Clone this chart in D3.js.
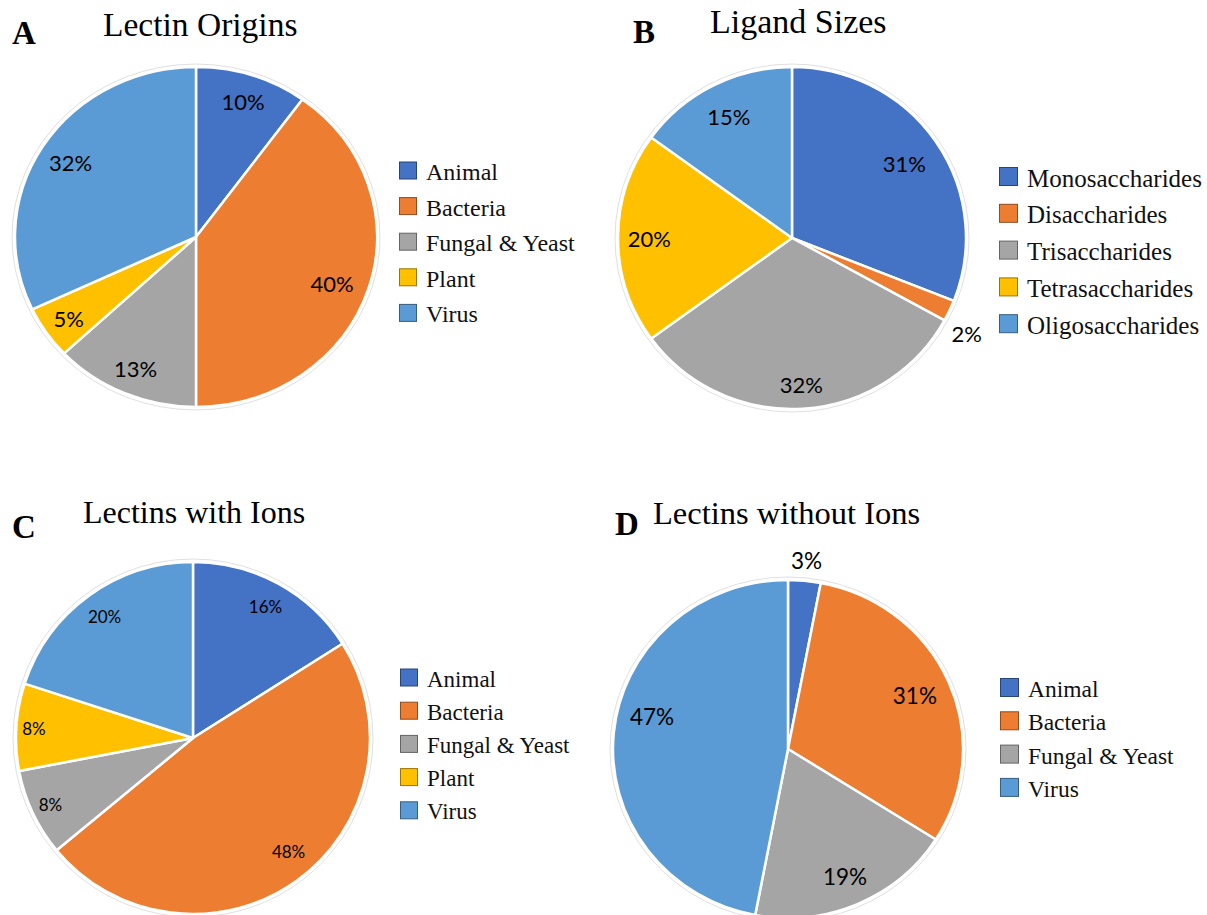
<!DOCTYPE html>
<html>
<head>
<meta charset="utf-8">
<script src="https://cdn.jsdelivr.net/npm/d3@7"></script>
<style>
  body { margin: 0; background: #fff; }
  svg { display: block; }
</style>
</head>
<body>
<div id="sketchpad"></div>
<script>
// data (percentages)
var panelLetters = ["A", "B", "C", "D"];
var panelTitles = ["Lectin Origins", "Ligand Sizes", "Lectins with Ions", "Lectins without Ions"];

var originCategories = ["Animal", "Bacteria", "Fungal & Yeast", "Plant", "Virus"];
var originValues = [10, 40, 13, 5, 32];

var ligandCategories = ["Monosaccharides", "Disaccharides", "Trisaccharides", "Tetrasaccharides", "Oligosaccharides"];
var ligandValues = [31, 2, 32, 20, 15];

var withIonsCategories = ["Animal", "Bacteria", "Fungal & Yeast", "Plant", "Virus"];
var withIonsValues = [16, 48, 8, 8, 20];

var withoutIonsCategories = ["Animal", "Bacteria", "Fungal & Yeast", "Virus"];
var withoutIonsValues = [3, 31, 19, 47];

var palette = ["#4472C4", "#ED7D31", "#A5A5A5", "#FFC000", "#5B9BD5"];
var withoutIonsColors = ["#4472C4", "#ED7D31", "#A5A5A5", "#5B9BD5"];

var w = 1207, h = 915;

var svg = d3.select("#sketchpad")
    .append("svg")
    .attr("width", w)
    .attr("height", h);

// layout of each panel (lr: label radius factor per slice, la: label angle nudge in degrees)
var panels = [
    { cats: originCategories, vals: originValues, colors: palette,
      cx: 196, cy: 237, rx: 181, ry: 170, lr: [0.84, 0.8, 0.84, 0.85, 0.82], la: [0, 2, 0, 0, 0], fs: 22,
      letter: [12, 44], title: [103, 36, 33.5],
      legend: { x: 399, y: 171, step: 35.6, sw: 18, fs: 24 } },
    { cats: ligandCategories, vals: ligandValues, colors: palette,
      cx: 792, cy: 238, rx: 174, ry: 171, lr: [0.78, 1.15, 0.86, 0.82, 0.8], la: [0, 4, 0, 0, 0], fs: 22,
      letter: [633, 43], title: [710, 33, 34],
      legend: { x: 999, y: 177, step: 36.8, sw: 19, fs: 25 } },
    { cats: withIonsCategories, vals: withIonsValues, colors: palette,
      cx: 193, cy: 738, rx: 177, ry: 176, lr: [0.85, 0.84, 0.89, 0.9, 0.85], la: [0, -4, 0, 0, 0], fs: 17,
      letter: [12, 538], title: [83, 523, 32],
      legend: { x: 400, y: 678, step: 33.2, sw: 18, fs: 23 } },
    { cats: withoutIonsCategories, vals: withoutIonsValues, colors: withoutIonsColors,
      cx: 788, cy: 749, rx: 175, ry: 169, lr: [1.12, 0.79, 0.82, 0.8], la: [0, 0, 0, 8.5], fs: 22.5,
      letter: [615, 535], title: [653, 524, 32.5],
      legend: { x: 1000, y: 688, step: 33.3, sw: 19, fs: 23.5 } }
];

var pie = d3.pie().sort(null).value(function(d) { return d; });

panels.forEach(function(p, i) {
    var color = d3.scaleOrdinal().domain(p.cats).range(p.colors);
    var arcs = pie(p.vals);
    var arc = d3.arc().innerRadius(0).outerRadius(p.ry);

    // faint outer ring
    svg.append("ellipse")
        .attr("cx", p.cx).attr("cy", p.cy)
        .attr("rx", p.rx + 3).attr("ry", p.ry + 3)
        .style("fill", "none")
        .style("stroke", "#e0e0e0")
        .style("stroke-width", 1);

    var g = svg.append("g")
        .attr("transform", "translate(" + p.cx + "," + p.cy + ") scale(" + (p.rx / p.ry) + ",1)");

    g.selectAll("path")
        .data(arcs)
        .enter()
        .append("path")
        .attr("d", arc)
        .attr("vector-effect", "non-scaling-stroke")
        .style("fill", function(d, j) { return color(p.cats[j]); })
        .style("stroke", "#fff")
        .style("stroke-width", 2.5)
        .style("stroke-linejoin", "round");

    var mid = function(d, j) { return (d.startAngle + d.endAngle) / 2 + p.la[j] * Math.PI / 180; };

    svg.selectAll("text.lbl" + i)
        .data(arcs)
        .enter()
        .append("text")
        .attr("class", "lbl" + i)
        .attr("x", function(d, j) { return p.cx + Math.sin(mid(d, j)) * p.rx * p.lr[j]; })
        .attr("y", function(d, j) { return p.cy - Math.cos(mid(d, j)) * p.ry * p.lr[j]; })
        .attr("text-anchor", "middle")
        .attr("dominant-baseline", "central")
        .style("font-family", "Lato, 'Noto Sans', sans-serif")
        .style("font-size", p.fs + "px")
        .style("fill", "#000")
        .text(function(d) { return d.data + "%"; });

    svg.append("text")
        .attr("x", p.letter[0]).attr("y", p.letter[1])
        .style("font-family", "'Liberation Serif', 'Times New Roman', serif")
        .style("font-weight", "bold")
        .style("font-size", "33px")
        .text(panelLetters[i]);

    svg.append("text")
        .attr("x", p.title[0]).attr("y", p.title[1])
        .style("font-family", "'Liberation Serif', 'Times New Roman', serif")
        .style("font-size", p.title[2] + "px")
        .text(panelTitles[i]);

    var lg = p.legend;
    var rows = svg.selectAll("g.leg" + i)
        .data(p.cats)
        .enter()
        .append("g")
        .attr("class", "leg" + i)
        .attr("transform", function(d, j) { return "translate(" + lg.x + "," + (lg.y + j * lg.step) + ")"; });

    rows.append("rect")
        .attr("x", 0.5).attr("y", -lg.sw / 2)
        .attr("width", lg.sw - 1).attr("height", lg.sw - 1)
        .style("fill", function(d) { return color(d); })
        .style("stroke", function(d) { return d3.color(color(d)).darker(1.4); })
        .style("stroke-width", 1);

    rows.append("text")
        .attr("x", lg.sw + 9).attr("y", 1)
        .attr("dominant-baseline", "central")
        .style("font-family", "'Liberation Serif', 'Times New Roman', serif")
        .style("font-size", lg.fs + "px")
        .style("fill", "#111")
        .text(function(d) { return d; });
});
</script>
</body>
</html>
